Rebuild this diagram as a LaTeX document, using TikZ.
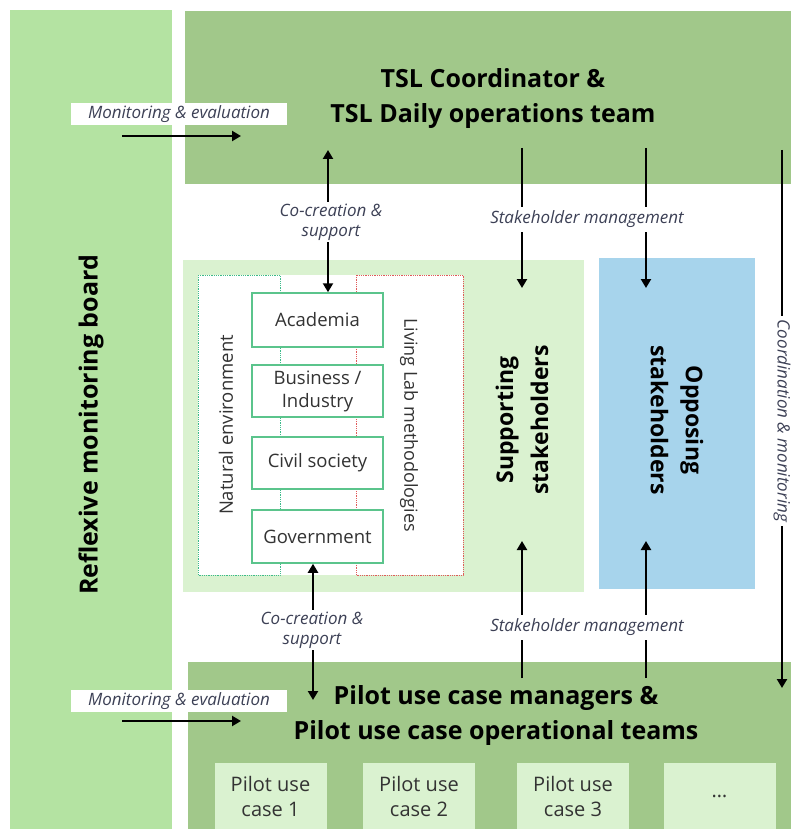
\documentclass[tikz,border=0pt]{standalone}
\usepackage{fontspec}
\setmainfont{Open Sans}
\usetikzlibrary{arrows.meta}
\definecolor{boardgreen}{HTML}{B4E3A2}
\definecolor{bandgreen}{HTML}{A1C88A}
\definecolor{palegreen}{HTML}{DAF2D0}
\definecolor{oppblue}{HTML}{A7D4EC}
\definecolor{edgegreen}{HTML}{5BC48C}
\definecolor{dotgreen}{HTML}{3DBB8A}
\definecolor{dotred}{HTML}{E05A5A}
\definecolor{labelgray}{HTML}{3C4055}
\definecolor{textgray}{HTML}{333333}
\tikzset{
  block/.style={draw=none, inner sep=0pt, outer sep=0pt},
  title/.style={font=\bfseries\fontsize{25}{35}\selectfont, align=center, text=black},
  sidetitle/.style={font=\bfseries\fontsize{23}{35}\selectfont, align=center, text=black},
  actor/.style={draw=edgegreen, line width=1.5pt, fill=white, minimum width=131pt,
    align=center, text=textgray, font=\fontsize{18.5}{23}\selectfont, inner sep=0pt},
  pilotbox/.style={block, fill=palegreen, minimum width=112pt, minimum height=66pt,
    align=center, text=textgray, font=\fontsize{20}{25}\selectfont},
  flowlabel/.style={font=\itshape\fontsize{17}{20}\selectfont, text=labelgray,
    align=center, inner sep=2pt},
  flow/.style={line width=2.2pt, -{Triangle[length=9pt,width=10pt]}},
  twoway/.style={line width=2.2pt, {Triangle[length=9pt,width=10pt]}-{Triangle[length=9pt,width=10pt]}}
}
\begin{document}
\begin{tikzpicture}[x=1pt,y=-1pt]
\useasboundingbox (0,0) rectangle (791,829);
\fill[white] (0,0) rectangle (791,829);

% outer blocks
\node[block, fill=boardgreen, minimum width=162pt, minimum height=819pt] (board) at (91,419.5) {};
\node[rotate=90, font=\bfseries\fontsize{25}{30}\selectfont] (boardtitle) at (91,425) {Reflexive monitoring board};
\node[block, fill=bandgreen, minimum width=606pt, minimum height=173pt] (tslband) at (488,97.5) {};
\node[title] (tsltitle) at (493,99) {TSL Coordinator \&\\TSL Daily operations team};
\node[block, fill=bandgreen, minimum width=603pt, minimum height=167pt] (pilotband) at (489.5,745.5) {};
\node[title] (pilottitle) at (496,715.5) {Pilot use case managers \&\\Pilot use case operational teams};

% stakeholder panels
\node[block, fill=palegreen, minimum width=401pt, minimum height=332pt] (panel) at (383.5,426) {};
\node[block, fill=white, minimum width=265pt, minimum height=300pt] (inner) at (330.5,425) {};
\draw[dotgreen, densely dotted, line width=0.8pt] (198,275) rectangle (280,575);
\draw[dotred, densely dotted, line width=0.8pt] (356,275) rectangle (463,575);
\node[rotate=90, font=\fontsize{18.5}{22}\selectfont, text=textgray] (natenv) at (226,425) {Natural environment};
\node[rotate=-90, font=\fontsize{18}{22}\selectfont, text=textgray] (llm) at (409,425) {Living Lab methodologies};

\node[actor, minimum height=54pt] (acad) at (317.5,320) {Academia};
\node[actor, minimum height=52pt] (biz) at (317.5,391) {Business /\\Industry};
\node[actor, minimum height=52pt] (civil) at (317.5,463) {Civil society};
\node[actor, minimum height=53pt] (gov) at (317.5,536.5) {Government};

\node[sidetitle, rotate=90] (supp) at (522,420) {Supporting\\stakeholders};
\node[block, fill=oppblue, minimum width=156pt, minimum height=331pt] (opp) at (677,423.5) {};
\node[sidetitle, rotate=-90] (opptext) at (677,420) {Opposing\\stakeholders};

% pilot use cases
\node[pilotbox] (p1) at (270.5,796) {Pilot use\\case 1};
\node[pilotbox] (p2) at (419,796) {Pilot use\\case 2};
\node[pilotbox] (p3) at (573,796) {Pilot use\\case 3};
\node[pilotbox] (p4) at (719.5,796) {\dots};

% connector end points
\coordinate (meA1) at (122,136);
\coordinate (meA2) at (241,136);
\coordinate (meB1) at (122,721);
\coordinate (meB2) at (241,721);
\coordinate (ccTop) at (328,150);
\coordinate (ccBot) at (313,700);
\coordinate (smT1) at (522,148);
\coordinate (smT2) at (646,148);
\coordinate (smE1) at (522,288);
\coordinate (smE2) at (646,288);
\coordinate (smB1) at (522,678);
\coordinate (smB2) at (646,678);
\coordinate (smU1) at (522,541);
\coordinate (smU2) at (646,541);
\coordinate (cmTop) at (782,150);
\coordinate (cmBot) at (782,688);

% monitoring & evaluation
\node[block, fill=white, minimum width=216pt, minimum height=22pt,
      font=\itshape\fontsize{17}{20}\selectfont, text=labelgray] (meA) at (179,114) {Monitoring \& evaluation};
\node[block, fill=white, minimum width=216pt, minimum height=22pt,
      font=\itshape\fontsize{17}{20}\selectfont, text=labelgray] (meB) at (179,701) {Monitoring \& evaluation};
\draw[flow] (meA1) -- (meA2);
\draw[flow] (meB1) -- (meB2);

% co-creation
\draw[twoway] (ccTop) -- (ccTop |- acad.north);
\node[flowlabel, fill=white] (ccA) at (331,222) {Co-creation \&\\support};
\draw[twoway] (ccBot |- gov.south) -- (ccBot);
\node[flowlabel, fill=white] (ccB) at (312,630) {Co-creation \&\\support};

% stakeholder management
\draw[flow] (smT1) -- (smE1);
\draw[flow] (smT2) -- (smE2);
\node[flowlabel, fill=white, inner ysep=4pt] (smA) at (587,219) {Stakeholder management};
\draw[flow] (smB1) -- (smU1);
\draw[flow] (smB2) -- (smU2);
\node[flowlabel, fill=white, inner ysep=4pt] (smB) at (587,627) {Stakeholder management};

% coordination & monitoring
\draw[flow] (cmTop) -- (cmBot);
\node[flowlabel, fill=white, rotate=-90, inner xsep=4pt] (cm) at (782,421) {Coordination \& monitoring};
\end{tikzpicture}
\end{document}
